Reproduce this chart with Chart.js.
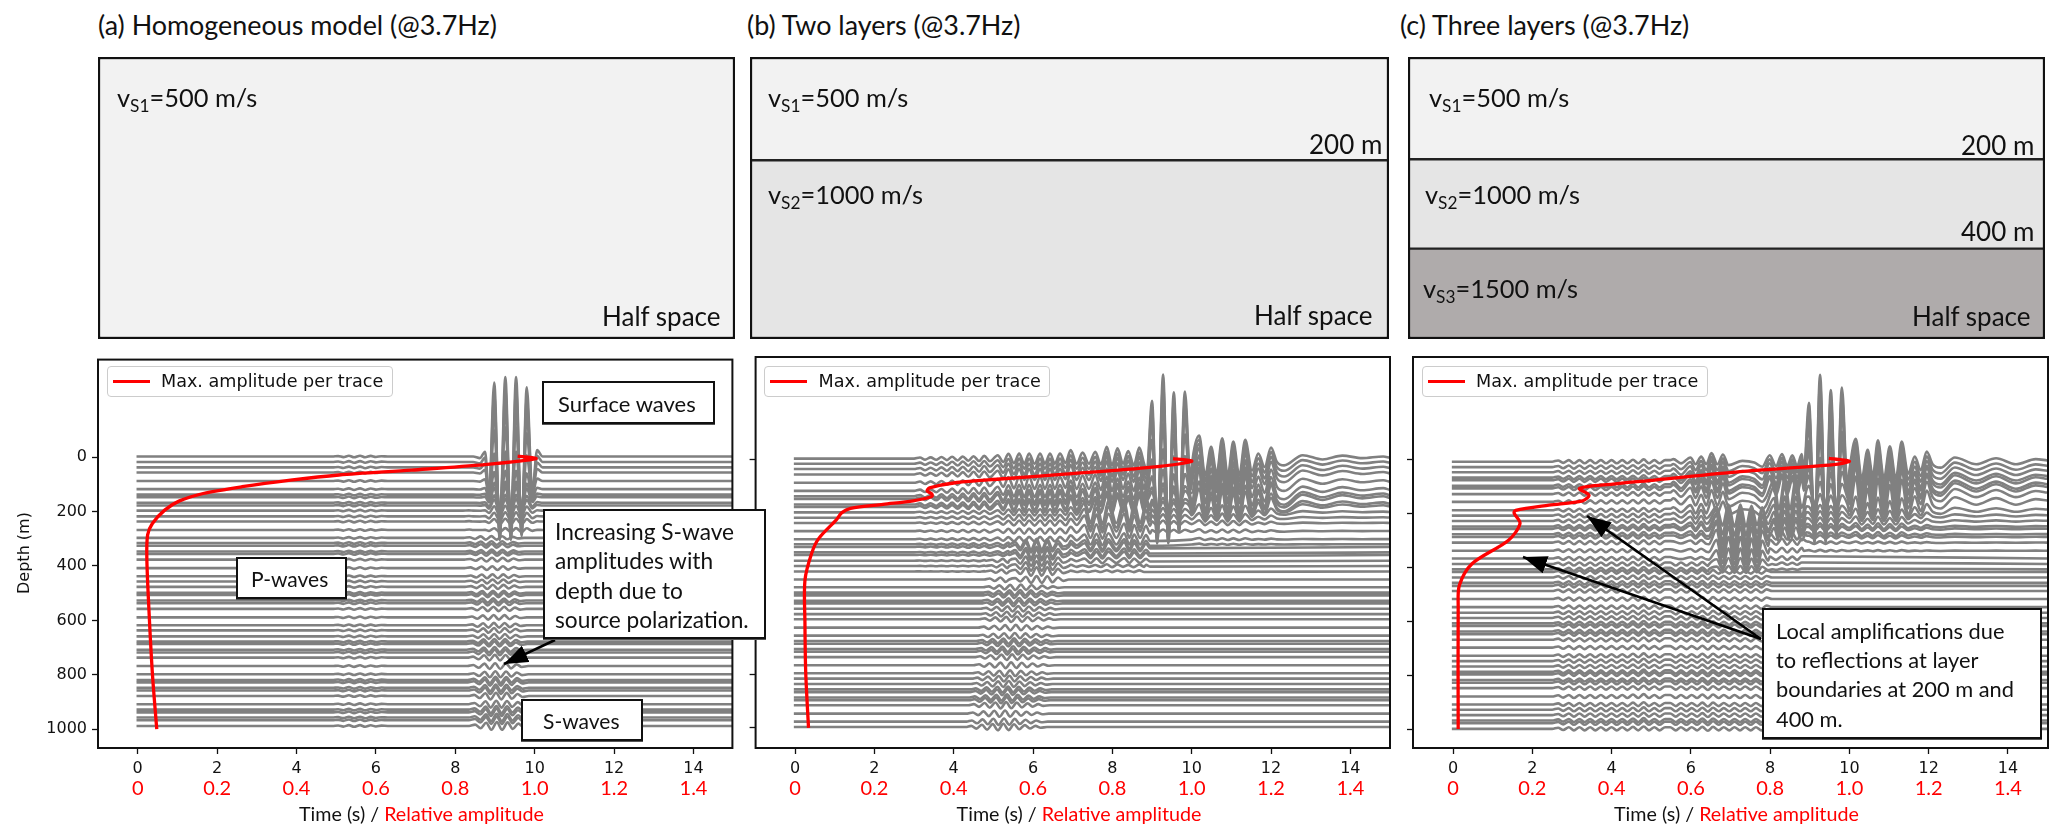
<!DOCTYPE html>
<html><head><meta charset="utf-8">
<script src="https://cdn.jsdelivr.net/npm/chart.js@4"></script>
<style>
html,body{margin:0;padding:0;background:#fff;overflow:hidden}
#page{position:relative;width:2067px;height:834px;font-family:Lato,sans-serif;color:#111}
canvas{position:absolute}
.t{position:absolute;white-space:nowrap;transform:translateY(-50%)}
.t sub{font-size:.68em;vertical-align:-.28em;line-height:0}
.box{position:absolute;background:#fff;border:2px solid #111;box-sizing:border-box;box-shadow:0 1px 0 #555}
.legend{position:absolute;background:rgba(255,255,255,.85);border:1.5px solid #ccc;border-radius:4px;box-sizing:border-box}
svg{position:absolute;left:0;top:0}
</style></head><body><div id="page"></div>
<script>
// ---------- tick labels ----------
const timeTicks=[0,2,4,6,8,10,12,14];
const ampTicks=[0,0.2,0.4,0.6,0.8,1.0,1.2,1.4];
const depthTicks=[0,200,400,600,800,1000];

// ---------- layer thicknesses of the sketches above the seismograms ----------
const layersA=[282];
const layersB=[103,179];
const layersC=[102,90,90];
const layerColors=['#f2f2f2','#e5e5e5','#afabab'];

// ---------- trace depths (m) ----------
const depthsA=[-2,18,38,57,88,118,138,148,168,178,197,218,237,268,297,316,326,347,356,377,408,438,457,477,499,507,527,537,558,589,618,637,659,678,687,708,718,737,768,798,819,828,848,858,878,908,928,938,957,967,988];
const depthsB=[-2,17,37,57,88,118,138,148,169,178,198,218,238,268,298,317,327,347,357,378,398,418,448,477,497,507,527,537,557,577,596,627,657,677,687,707,717,737,767,797,817,837,857,867,887,897,916,947,977,997];
const depthsC=[9,29,48,68,78,98,108,129,158,189,209,229,249,258,278,288,309,339,368,388,408,418,438,458,469,488,518,548,569,588,608,618,638,648,669,698,728,748,768,788,797,818,828,848,879,909,928,948,968,978,999];

// ---------- max amplitude per trace ----------
const maxDepthA=[-3,6,28,48,66,85,109,134,162,195,244,286,370,552,795,1000];
const maxAmpA=[0.957,1.003,0.874,0.69,0.507,0.385,0.263,0.165,0.104,0.068,0.037,0.025,0.023,0.028,0.037,0.048];
const maxDepthB=[-2,8,30,56,74,87,107,118,130,139,155,168,183,199,226,295,350,450,610,795,1000];
const maxAmpB=[0.953,1.0,0.9,0.68,0.517,0.408,0.339,0.333,0.345,0.345,0.298,0.222,0.14,0.118,0.104,0.06,0.042,0.025,0.025,0.027,0.034];
const maxDepthC=[-3,7,20,46,77,92,108,133,154,170,189,199,238,300,387,467,547,1000];
const maxAmpC=[0.948,1.0,0.96,0.724,0.509,0.403,0.319,0.343,0.327,0.242,0.158,0.154,0.169,0.14,0.048,0.016,0.013,0.013];

// ---------- wave groups: times (s) of the crests and troughs, relative height ----------
const aSurfT=[8.45,8.62,8.75,8.85,8.98,9.12,9.26,9.40,9.53,9.67,9.8,9.94,10.06,10.2];
const aSurfH=[0,-0.02,0.06,-0.5,0.93,-1.05,1,-1.05,1,-1,0.87,-0.45,0.08,0];
const aSurfGain=[1,0.91,0.77,0.57,0.37,0.23,0.16,0.13,0.1,0.08,0.06,0.05,0.035,0.024];
const aShearT=[8.15,8.3,8.44,8.58,8.71,8.85,8.98,9.12,9.25,9.39,9.52,9.68];
const aShearH=[0,0.35,-0.6,0.85,-1,1,-1,0.95,-0.8,0.6,-0.3,0];
const aShearGain=[0,0,0,0,0,0,0,0,0,0,0.01,0.012,0.014,0.016,0.022,0.023,0.023,0.023,0.023,0.024,0.024,0.025,0.025,0.026,0.027,0.027,0.027,0.028,0.028,0.029,0.03,0.03,0.031,0.032,0.032,0.033,0.034,0.035,0.036,0.037,0.039,0.04,0.04,0.041,0.042,0.043,0.044,0.045,0.046,0.046,0.048];
const aPT=[4.9,5.05,5.18,5.32,5.45,5.6,5.73,5.87,6.0,6.14,6.3];
const aPH=[0,0.5,-0.8,1,-1,1,-1,0.8,-0.6,0.4,0];
const aPGain=0.01;

const bTallT=[8.87,9.0,9.13,9.28,9.41,9.55,9.68,9.83,9.97];
const bTallH=[-0.15,0.68,-1,0.99,-1,0.78,-0.86,0.79,-0.3];
const bTallGain=[1,0.93,0.82,0.6,0.4,0.25,0.15,0.12,0.08,0.06,0.05,0.04,0.03,0.02];
const bLateT=[10.0,10.19,10.34,10.49,10.63,10.77,10.91,11.05,11.2,11.35,11.52,11.68,11.84,12.0,12.15,12.33,12.8,13.3,13.8,14.3,14.83,14.99];
const bLateH=[-0.1,0.27,-0.2,0.14,-0.18,0.24,-0.2,0.2,-0.2,0.22,-0.14,0.06,-0.1,0.13,-0.04,-0.08,0.04,-0.01,0.035,0.005,0.025,0.01];
const bLateGain=[1,1.05,1.1,1.15,1.2,1.25,1.25,1.25,1,0.8,0.35,0.2,0.12,0.08,0.05,0.03];
const bEarlyT=[3.0,3.15,3.28,3.42,3.56,3.69,3.83,3.96,4.1,4.23,4.37,4.5,4.64,4.77,4.91,5.11,5.25,5.38,5.52,5.65,5.78,5.9,6.04,6.18,6.3,6.43,6.55,6.68,6.82,6.95,7.1,7.25,7.41,7.57,7.71,7.86,7.99,8.13,8.27,8.4,8.54,8.68,8.8];
const bEarlyH=[0,0.012,-0.012,0.014,-0.014,0.018,-0.018,0.022,-0.022,0.025,-0.025,0.028,-0.028,0.032,-0.032,0.04,-0.04,0.055,-0.055,0.06,-0.06,0.06,-0.06,0.06,-0.06,0.06,-0.06,0.06,-0.05,0.1,-0.06,0.07,-0.06,0.08,-0.07,0.14,-0.08,0.12,-0.06,0.09,-0.08,0.13,-0.06];
const bEarlyGain=[1,1,1.1,1.1,1.2,1.2,1.2,1.2,1.1,1,0.6,0.55,0.5,0.5,0.45,0.4,0.35,0.3,0.25,0.2,0.15,0.1];
const bS1T=[7.1,7.3,7.45,7.6,7.75,7.9,8.1,8.3,8.43,8.55,8.7,8.85,8.95];
const bS1H=[-0.2,0.8,-0.9,0.9,-1,1,-0.9,1,-0.9,0.8,-0.9,0.7,-0.3];
const bS1Gain=[0,0,0,0,0.02,0.04,0.06,0.07,0.1,0.12,0.14,0.13,0.11,0.09,0.07,0.06,0.055,0.045,0.04,0.03,0.02];
const bS2T=[5.4,5.55,5.68,5.82,5.95,6.09,6.22,6.36,6.49,6.63,6.76,6.9];
const bS2H=[0,0.4,-0.6,0.8,-1,1,-1,0.95,-0.8,0.6,-0.4,0];
const bS2Gain=[0,0,0,0,0,0,0,0,0,0,0,0.03,0.05,0.055,0.06,0.065,0.065,0.065,0.065,0.06,0.055,0.05,0.04];
const bS3T=[5.15,5.29,5.42,5.56,5.69,5.83,5.96,6.1,6.23,6.37,6.5,6.64,6.77,6.91,7.04,7.2];
const bS3H=[0,0.35,-0.5,0.7,-0.8,0.9,-1,1,-0.95,0.85,-0.7,0.6,-0.45,0.35,-0.2,0];
const bS3Gain=[0,0,0,0,0,0,0,0,0,0,0.03,0.03,0.03,0.03,0.03,0.03,0.03,0.03,0.03,0.03,0.03,0.03,0.035,0.032,0.032,0.032,0.032,0.032,0.032,0.032,0.032,0.032,0.032,0.032,0.032,0.033,0.033,0.033,0.034,0.034,0.034,0.035,0.035,0.035,0.036,0.036,0.037,0.037,0.038,0.038];

const cTallT=[8.85,8.98,9.12,9.26,9.4,9.53,9.67,9.81,9.95];
const cTallH=[-0.12,0.69,-0.93,1.02,-0.93,0.84,-0.85,0.87,-0.3];
const cTallGain=[1,0.95,0.8,0.62,0.5,0.32,0.22,0.14,0.09,0.06,0.05,0.04,0.035,0.03,0.025,0.02,0.015,0.01];
const cLateT=[10.0,10.16,10.31,10.46,10.59,10.72,10.87,11.02,11.17,11.32,11.48,11.65,11.8,11.95,12.1,12.3,12.66,13.2,13.7,14.2,14.7,14.99];
const cLateH=[-0.1,0.27,-0.2,0.14,-0.17,0.25,-0.2,0.18,-0.2,0.235,-0.14,0.06,-0.1,0.12,-0.03,-0.07,0.05,-0.03,0.04,-0.03,0.03,0.015];
const cLateGain=[1,1.05,1.1,1.15,1.2,1.2,1.2,1.2,1.1,0.6,0.3,0.2,0.15,0.12,0.1,0.08,0.05,0.03];
const cFirstT=[2.5,2.65,2.78,2.92,3.05,3.19,3.32,3.46,3.59,3.73,3.86,4.0,4.13,4.27,4.4,4.54,4.67,4.81,4.94,5.08,5.21,5.35];
const cFirstH=[0,0.015,-0.015,0.02,-0.02,0.02,-0.02,0.02,-0.02,0.02,-0.02,0.02,-0.02,0.02,-0.02,0.025,-0.02,0.03,-0.02,0.02,-0.02,0.02];
const cFirstGain=0.9;
const cEarlyT=[5.56,5.75,5.99,6.12,6.26,6.39,6.52,6.67,6.81,6.95,7.3,7.6,7.8,7.99,8.15,8.3,8.43,8.56,8.68,8.8];
const cEarlyH=[0.03,-0.02,0.05,-0.03,0.06,-0.03,0.1,-0.03,0.085,-0.04,0.01,-0.01,-0.06,0.075,-0.05,0.09,-0.05,0.075,-0.05,0.09];
const cEarlyGain=[1,1.2,1.4,1.5,1.5,1.5,1.5,1.5,1.4,1.2,1.1,1,0.9,0.8,0.7,0.6,0.5,0.4,0.3,0.2,0.1];
const cDeepT=[5.48,5.62,5.75,5.89,6.02,6.16,6.29,6.43,6.56,6.7,6.83,6.97,7.1,7.24,7.37,7.51,7.64,7.78,7.91,8.05];
const cDeepH=[0.02,-0.02,0.02,-0.02,0.02,-0.02,0.025,-0.025,0.025,-0.02,0.02,-0.02,0.02,-0.02,0.02,-0.02,0.02,-0.02,0.02,0];
const cDeepGain=0.9;
const cS1T=[6.45,6.65,6.8,6.95,7.1,7.25,7.39,7.53,7.67,7.8,7.95];
const cS1H=[-0.1,0.8,-0.9,1,-1,1,-1,0.9,-0.85,0.75,-0.2];
const cS1Gain=[0,0,0,0,0,0,0,0,0,0.06,0.13,0.17,0.19,0.2,0.2,0.2,0.19,0.16,0.12,0.07,0.04];
const cS2T=[7.9,8.1,8.22,8.37,8.5,8.65,8.8,8.92];
const cS2H=[-0.2,0.9,-1,1,-1,1,-0.9,0.3];
const cS2Gain=[0,0,0,0,0,0.12,0.14,0.18,0.2,0.16,0.14,0.12,0.1,0.09,0.08,0.06,0.05];

// ---------- panels ----------
const panels=[
 {canvas:[0,345,745,489],area:[98,357,732.4,748],xRange:[-1,14.98],yRange:[-358,1069],labels:true,metres:292,
  depths:depthsA,maxDepth:maxDepthA,maxAmp:maxAmpA,
  groups:[{t:aSurfT,h:aSurfH,g:aSurfGain},{t:aShearT,h:aShearH,g:aShearGain,move:0.2},{t:aPT,h:aPH,g:aPGain}]},
 {canvas:[740,345,665,489],area:[755.6,357,1390,748],xRange:[-0.994,15],yRange:[-380,1075],labels:false,metres:316,
  depths:depthsB,maxDepth:maxDepthB,maxAmp:maxAmpB,
  groups:[{t:bTallT,h:bTallH,g:bTallGain},{t:bLateT,h:bLateH,g:bLateGain},{t:bEarlyT,h:bEarlyH,g:bEarlyGain},{t:bS1T,h:bS1H,g:bS1Gain},{t:bS2T,h:bS2H,g:bS2Gain},{t:bS3T,h:bS3H,g:bS3Gain,move:-0.85}]},
 {canvas:[1398,345,665,489],area:[1413,357,2048,748],xRange:[-1.01,15.01],yRange:[-379,1070],labels:false,metres:316,
  depths:depthsC,maxDepth:maxDepthC,maxAmp:maxAmpC,
  groups:[{t:cTallT,h:cTallH,g:cTallGain},{t:cLateT,h:cLateH,g:cLateGain},{t:cFirstT,h:cFirstH,g:cFirstGain},{t:cEarlyT,h:cEarlyH,g:cEarlyGain},{t:cDeepT,h:cDeepH,g:cDeepGain},{t:cS1T,h:cS1H,g:cS1Gain},{t:cS2T,h:cS2H,g:cS2Gain}]}
];

const page=document.getElementById('page');
function addCanvas(x,y,w,h){const c=document.createElement('canvas');c.width=w;c.height=h;c.style.left=x+'px';c.style.top=y+'px';c.style.width=w+'px';c.style.height=h+'px';page.appendChild(c);return c;}
function text(x,y,html,size,extra){const d=document.createElement('div');d.className='t';d.style.left=x+'px';d.style.top=y+'px';d.style.fontSize=size+'px';if(extra)Object.assign(d.style,extra);d.innerHTML=html;page.appendChild(d);return d;}

const frame={id:'frame',afterDatasetsDraw(ch){const a=ch.chartArea,c=ch.ctx;c.save();c.strokeStyle='#111';c.lineWidth=2;c.strokeRect(a.left,a.top,a.right-a.left,a.bottom-a.top);c.restore();}};

// one trace: the strongest wave group at each time wins; flat between groups
function trace(depth,i,p){
  const act=p.groups.map(gr=>{
    const g=Array.isArray(gr.g)?(gr.g[i]||0):gr.g;
    return {t:gr.t,h:gr.h,g,shift:(gr.move||0)*depth/1000,power:g*Math.max(...gr.h.map(Math.abs))};
  }).filter(a=>a.g>0).sort((a,b)=>b.power-a.power);
  const used=[],pts=[];
  act.forEach(a=>{
    a.t.forEach((t,k)=>{const tt=t+a.shift;if(!used.some(w=>tt>=w[0]&&tt<=w[1]))pts.push({x:tt,y:depth-a.g*a.h[k]*p.metres});});
    used.push([a.t[0]+a.shift,a.t[a.t.length-1]+a.shift]);
  });
  pts.sort((a,b)=>a.x-b.x);
  if(!pts.length||pts[pts.length-1].x<14.9)pts.push({x:15,y:depth});
  pts.unshift({x:-0.03,y:depth});
  return pts;
}

panels.forEach(p=>{
  const [cx,cy,cw,ch]=p.canvas,[l,t,r,b]=p.area;
  const axisW=l-cx;
  const datasets=[{label:'Max. amplitude per trace',xAxisID:'x2',yAxisID:'y',showLine:true,borderColor:'#ff0000',borderWidth:3.3,pointRadius:0,tension:0.3,order:0,
      data:p.maxDepth.map((d,i)=>({x:p.maxAmp[i],y:d}))}];
  p.depths.forEach((d,i)=>datasets.push({label:'trace '+d+' m',xAxisID:'x',yAxisID:'y',showLine:true,borderColor:'#808080',borderWidth:2.6,pointRadius:0,cubicInterpolationMode:'monotone',order:1,data:trace(d,i,p)}));
  new Chart(addCanvas(cx,cy,cw,ch),{type:'scatter',data:{datasets},plugins:[frame],options:{
    responsive:false,animation:false,devicePixelRatio:1,
    layout:{padding:{left:0,right:cx+cw-r,top:t-cy,bottom:cy+ch-797}},
    plugins:{legend:{display:false},tooltip:{enabled:false}},events:[],
    scales:{
      x:{type:'linear',position:'bottom',weight:0,min:p.xRange[0],max:p.xRange[1],
        afterBuildTicks:s=>{s.ticks=timeTicks.map(v=>({value:v}));},afterFit:s=>{s.height=29;},
        grid:{drawOnChartArea:false,drawTicks:true,tickLength:6,color:'#111',tickWidth:1.3},border:{display:false},
        ticks:{color:'#111',font:{family:'DejaVu Sans',size:16},maxRotation:0,padding:5,autoSkip:false}},
      x2:{type:'linear',position:'bottom',weight:1,min:p.xRange[0]/10,max:p.xRange[1]/10,
        afterBuildTicks:s=>{s.ticks=ampTicks.map(v=>({value:v}));},afterFit:s=>{s.height=20;},
        grid:{display:false,drawTicks:false},border:{display:false},
        ticks:{color:'#ff0000',font:{family:'Lato',size:20},maxRotation:0,padding:0,autoSkip:false,callback:v=>v===0?'0':v.toFixed(1)}},
      y:{type:'linear',position:'left',reverse:true,min:p.yRange[0],max:p.yRange[1],
        afterBuildTicks:s=>{s.ticks=depthTicks.map(v=>({value:v}));},afterFit:s=>{s.width=axisW;},
        grid:{drawOnChartArea:false,drawTicks:true,tickLength:6,color:'#111',tickWidth:1.3},border:{display:false},
        ticks:{display:p.labels,color:'#111',font:{family:'DejaVu Sans',size:16},padding:5,autoSkip:false,callback:v=>String(v)}}
    }}});
  // legend
  const lg=document.createElement('div');lg.className='legend';lg.style.cssText+=`left:${l+8.6}px;top:366px;width:286px;height:31px`;page.appendChild(lg);
  const ln=document.createElement('div');ln.style.cssText=`position:absolute;left:${l+14.5}px;top:379.5px;width:37px;height:3px;background:#f00`;page.appendChild(ln);
  text(l+63,381,'Max. amplitude per trace',17.6,{fontFamily:'DejaVu Sans'});
  // axis title
  text(l+201,813,'Time (s) / <span style="color:#f00">Relative amplitude</span>',19.7);
});

// ---------- sketches ----------
const sketches=[{box:[98,57,637,282],layers:layersA},{box:[750,57,639,282],layers:layersB},{box:[1408,57,637,282],layers:layersC}];
sketches.forEach(s=>{
  const [x,y,w,h]=s.box;
  new Chart(addCanvas(x,y,w,h),{type:'bar',plugins:[frame],
    data:{labels:['model'],datasets:s.layers.map((v,i)=>({label:'layer '+(i+1),data:[v],backgroundColor:layerColors[i],borderColor:'#222',borderWidth:1.5,borderSkipped:false,categoryPercentage:1,barPercentage:1}))},
    options:{responsive:false,animation:false,devicePixelRatio:1,events:[],layout:{padding:1},plugins:{legend:{display:false},tooltip:{enabled:false}},
      scales:{x:{display:false,stacked:true},y:{display:false,stacked:true,reverse:true,min:0,max:h}}}});
});

// ---------- texts ----------
text(98,24,'(a) Homogeneous model (@3.7Hz)',26.9);
text(747,24,'(b) Two layers (@3.7Hz)',26.9);
text(1400,24,'(c) Three layers (@3.7Hz)',26.9);
[[117,97,'v<sub>S1</sub>=500 m/s'],[768,97,'v<sub>S1</sub>=500 m/s'],[768,194,'v<sub>S2</sub>=1000 m/s'],[1429,97,'v<sub>S1</sub>=500 m/s'],[1425,194,'v<sub>S2</sub>=1000 m/s'],[1423,288,'v<sub>S3</sub>=1500 m/s']]
 .forEach(a=>text(a[0],a[1],a[2],25.4));
[[602,316,'Half space'],[1254,315,'Half space'],[1912,316,'Half space'],[1309,144,'200 m'],[1961,145,'200 m'],[1961,231,'400 m']]
 .forEach(a=>text(a[0],a[1],a[2],26));
text(23,553,'Depth (m)',16,{fontFamily:'DejaVu Sans',transform:'translate(-50%,-50%) rotate(-90deg)'});

// ---------- annotation boxes ----------
function box(x,y,w,h){const d=document.createElement('div');d.className='box';d.style.cssText+=`left:${x}px;top:${y}px;width:${w}px;height:${h}px`;page.appendChild(d);}
const NS='http://www.w3.org/2000/svg';
const svg=document.createElementNS(NS,'svg');svg.setAttribute('width',2067);svg.setAttribute('height',834);
svg.innerHTML='<defs><marker id="h" markerUnits="userSpaceOnUse" markerWidth="26" markerHeight="20" refX="24" refY="9" orient="auto"><path d="M0,0L24,9L0,18z" fill="#000"/></marker></defs>'+
 [[555,640,504,664],[1761,639,1587,516],[1761,639,1523,557]].map(a=>`<line x1="${a[0]}" y1="${a[1]}" x2="${a[2]}" y2="${a[3]}" stroke="#000" stroke-width="2.6" marker-end="url(#h)"/>`).join('');
page.appendChild(svg);
box(542,381,173,43);text(558,402.5,'Surface waves',22);
box(236,557,111,42);text(251,578,'P-waves',21);
box(521,699,122,42);text(543,720,'S-waves',21);
box(543,509,223,130);
['Increasing S-wave','amplitudes with','depth due to','source polarization.'].forEach((s,i)=>text(555,531+i*29.4,s,22.7));
box(1762,608,280,131);
['Local amplifications due','to reflections at layer','boundaries at 200 m and','400 m.'].forEach((s,i)=>text(1776,630+i*29.2,s,21.8));
</script></body></html>
